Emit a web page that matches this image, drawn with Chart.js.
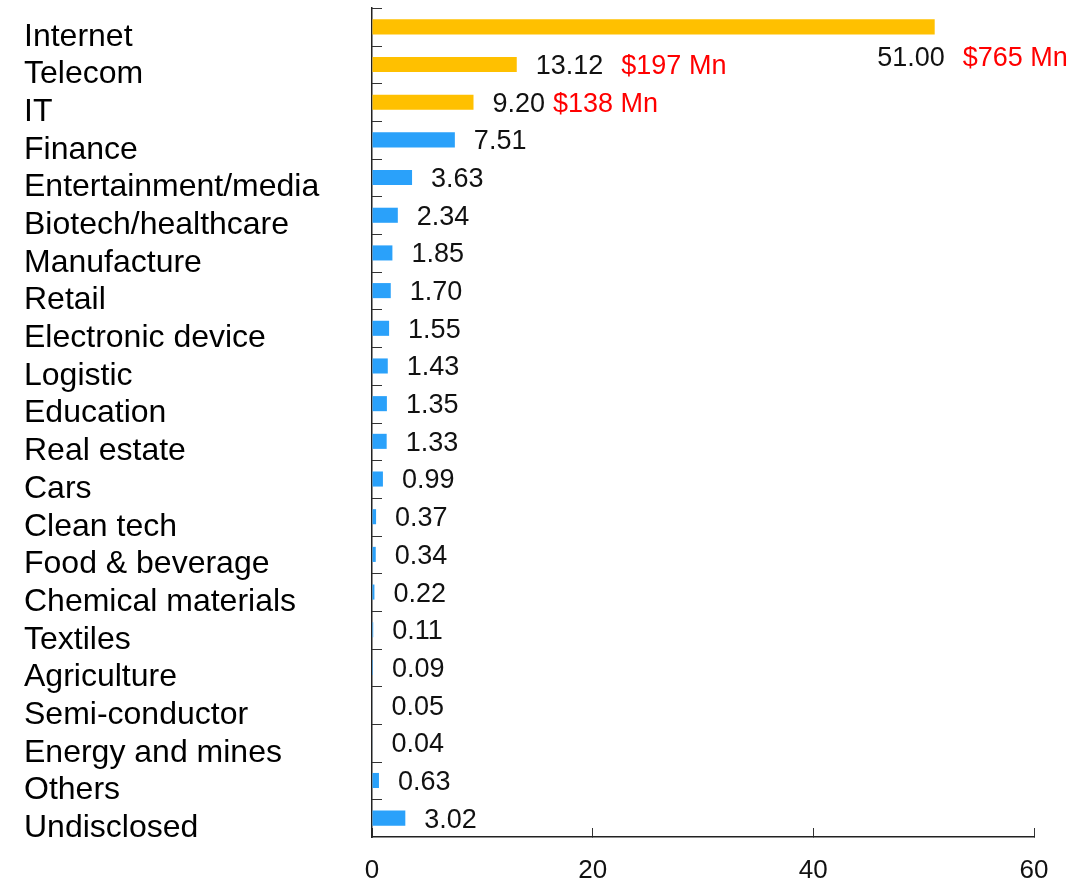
<!DOCTYPE html>
<html>
<head>
<meta charset="utf-8">
<script src="https://cdn.jsdelivr.net/npm/chart.js@4/dist/chart.umd.min.js"></script>
<style>
  html, body { margin: 0; padding: 0; background: #fff; }
  #wrap { width: 1086px; height: 882px; position: relative; }
</style>
</head>
<body>
<div id="wrap"><canvas id="chart"></canvas></div>
<script>
var categories = ['Internet', 'Telecom', 'IT', 'Finance', 'Entertainment/media',
  'Biotech/healthcare', 'Manufacture', 'Retail', 'Electronic device', 'Logistic',
  'Education', 'Real estate', 'Cars', 'Clean tech', 'Food & beverage',
  'Chemical materials', 'Textiles', 'Agriculture', 'Semi-conductor',
  'Energy and mines', 'Others', 'Undisclosed'];
var shares = [51.00, 13.12, 9.20, 7.51, 3.63, 2.34, 1.85, 1.70, 1.55, 1.43,
  1.35, 1.33, 0.99, 0.37, 0.34, 0.22, 0.11, 0.09, 0.05, 0.04, 0.63, 3.02];
var amounts = ['$765 Mn', '$197 Mn', '$138 Mn'];
var xTicks = [0, 20, 40, 60];

var FONT = '"Liberation Sans", Arial, sans-serif';
var GOLD = '#FFC000';
var BLUE = '#2AA1FA';

var barColors = shares.map(function(v, i) { return i < amounts.length ? GOLD : BLUE; });

var valueLabels = {
  id: 'valueLabels',
  afterDatasetsDraw: function(chart) {
    var ctx = chart.ctx;
    var meta = chart.getDatasetMeta(0);
    ctx.save();
    ctx.font = '27px ' + FONT;
    ctx.textBaseline = 'middle';
    meta.data.forEach(function(bar, i) {
      var txt = shares[i].toFixed(2);
      var red = amounts[i];
      var w = ctx.measureText(txt).width;
      var rw = red ? ctx.measureText(red).width : 0;
      var x = bar.x + 19;
      var y = bar.y + 2;
      if (x + w + 16 + rw > chart.width) {
        // no room to the right: put it under the bar
        x = bar.x + 10 - w;
        y = bar.y + 32;
      }
      ctx.textAlign = 'left';
      ctx.fillStyle = '#111';
      ctx.fillText(txt, x, y);
      if (red) {
        ctx.fillStyle = '#FF0000';
        ctx.fillText(red, x + w + (i == 2 ? 8 : 18), y);
      }
    });
    ctx.restore();
  }
};

// small marks between the categories, pointing into the plot
var bandTicks = {
  id: 'bandTicks',
  afterDraw: function(chart) {
    var ctx = chart.ctx;
    var y = chart.scales.y;
    var left = chart.chartArea.left;
    var h = (y.bottom - y.top) / categories.length;
    ctx.save();
    ctx.strokeStyle = '#333';
    ctx.lineWidth = 1;
    for (var i = 0; i < categories.length; i++) {
      var p = Math.round(y.top + i * h) + 0.5;
      ctx.beginPath();
      ctx.moveTo(left, p);
      ctx.lineTo(left + 10, p);
      ctx.stroke();
    }
    ctx.restore();
  }
};

new Chart(document.getElementById('chart'), {
  type: 'bar',
  data: {
    labels: categories,
    datasets: [{
      data: shares,
      backgroundColor: barColors,
      borderWidth: 0,
      barPercentage: 0.4,
      categoryPercentage: 1
    }]
  },
  options: {
    indexAxis: 'y',
    responsive: true,
    maintainAspectRatio: false,
    animation: false,
    layout: { padding: { left: 24, top: 8, right: 52, bottom: 0 } },
    plugins: { legend: { display: false }, tooltip: { enabled: false } },
    scales: {
      y: {
        grid: { drawOnChartArea: false, drawTicks: false },
        border: { color: '#222', width: 1.5 },
        ticks: {
          autoSkip: false,
          crossAlign: 'far',
          color: '#000',
          labelOffset: 10,
          font: { family: FONT, size: 32 }
        },
        afterFit: function(scale) {
          scale.width = 348;
          scale.paddingTop = 0;
          scale.paddingBottom = 0;
        }
      },
      x: {
        min: 0,
        max: 60,
        afterBuildTicks: function(scale) {
          scale.ticks = xTicks.map(function(v) { return { value: v }; });
        },
        grid: { drawOnChartArea: false, tickLength: -9, color: '#333' },
        border: { color: '#222', width: 1.5 },
        ticks: {
          color: '#111',
          padding: 27,
          font: { family: FONT, size: 26 }
        },
        afterFit: function(scale) { scale.height = 45; }
      }
    }
  },
  plugins: [valueLabels, bandTicks]
});
</script>
</body>
</html>
